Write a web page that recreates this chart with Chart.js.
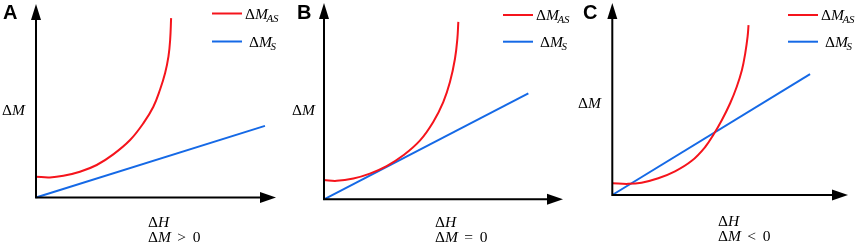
<!DOCTYPE html>
<html>
<head>
<meta charset="utf-8">
<script src="https://cdn.jsdelivr.net/npm/chart.js@4.4.1/dist/chart.umd.min.js"></script>
<style>
  html, body { margin: 0; padding: 0; background: #fff; }
  #wrap { position: relative; width: 858px; height: 246px; overflow: hidden; }
  canvas { position: absolute; top: 0; }
</style>
</head>
<body>
<div id="wrap">
  <canvas id="panelA" width="286" height="246" style="left:0px"></canvas>
  <canvas id="panelB" width="286" height="246" style="left:286px"></canvas>
  <canvas id="panelC" width="286" height="246" style="left:572px"></canvas>
</div>
<script>
// values are % of each axis length (0 = origin, 100 = arrow tip)
const asH_A = [0, 5.8, 11.4, 18.3, 25.3, 32.2, 39.2, 44.7, 48.9, 51.7, 53.8, 55.2, 55.9, 56.3];
const asM_A = [10.7, 10.4, 11.2, 13.3, 16.8, 22.3, 29.7, 38.3, 46.9, 55.8, 64.3, 72.9, 81.5, 92.7];
const sH_A = [0, 95.4];
const sM_A = [0, 37.0];

const asH_B = [0, 5.3, 12.3, 19.2, 26.2, 33.2, 40.2, 45.7, 49.9, 52.7, 54.8, 55.8, 56.2];
const asM_B = [9.8, 9.4, 10.6, 13.1, 16.9, 22.4, 30.0, 39.4, 49.5, 59.7, 71.6, 81.8, 90.4];
const sH_B = [0, 85.5];
const sM_B = [0, 54.0];

const asH_C = [0, 6.7, 12.4, 19.5, 26.6, 33.7, 39.4, 42.9, 46.5, 50.0, 52.8, 55.0, 56.4, 57.4, 57.8];
const asM_C = [6.1, 5.8, 6.4, 8.7, 12.3, 17.8, 25.0, 31.4, 39.1, 47.8, 56.4, 65.1, 73.8, 82.5, 88.5];
const sH_C = [0, 83.9];
const sM_C = [0, 63.0];

const panelLetters = ['A', 'B', 'C'];
const conditions = ['\u0394M > 0', '\u0394M = 0', '\u0394M < 0'];

const RED = '#f5141c';
const BLUE = '#1569e6';
const SERIF = '"Liberation Serif", "Times New Roman", serif';

function toPoints(xs, ys) {
  return xs.map((x, i) => ({ x: x, y: ys[i] }));
}

// draws Δ + italic symbol (+ italic subscript) (+ upright rest)
function drawSymbol(ctx, x, y, size, sym, sub, rest) {
  ctx.textBaseline = 'alphabetic';
  ctx.textAlign = 'left';
  ctx.font = size + 'px ' + SERIF;
  ctx.fillText('\u0394', x, y);
  x += ctx.measureText('\u0394').width;
  ctx.font = 'italic ' + size + 'px ' + SERIF;
  ctx.fillText(sym, x, y);
  x += ctx.measureText(sym).width;
  if (sub) {
    ctx.font = 'italic ' + Math.round(size * 0.68) + 'px ' + SERIF;
    ctx.fillText(sub, x - 1.5, y + 3);
    x += ctx.measureText(sub).width;
  }
  if (rest) {
    ctx.font = size + 'px ' + SERIF;
    ctx.letterSpacing = '1.5px';
    ctx.fillText(rest, x + 1, y);
    ctx.letterSpacing = '0px';
  }
}

const panels = [
  { id: 'panelA', as: [asH_A, asM_A], s: [sH_A, sM_A], pad: { left: 36, right: 10, top: 4, bottom: 48.5 },
    letterX: 3, yLab: [2, 115], xLab: [148, 227], legX: 212, legY: [13.5, 41.5] },
  { id: 'panelB', as: [asH_B, asM_B], s: [sH_B, sM_B], pad: { left: 38, right: 9, top: 3, bottom: 46.7 },
    letterX: 11, yLab: [6, 115], xLab: [149, 227], legX: 217, legY: [15, 41.7] },
  { id: 'panelC', as: [asH_C, asM_C], s: [sH_C, sM_C], pad: { left: 40.3, right: 10, top: 3, bottom: 51 },
    letterX: 11, yLab: [6, 108], xLab: [146, 226], legX: 216, legY: [15, 41.7] }
];

panels.forEach((p, idx) => {
  const decor = {
    id: 'decor' + idx,
    afterDraw(chart) {
      const ctx = chart.ctx;
      const xs = chart.scales.x, ys = chart.scales.y;
      const x0 = xs.getPixelForValue(0), y0 = ys.getPixelForValue(0);
      const xEnd = xs.getPixelForValue(100), yEnd = ys.getPixelForValue(100);
      ctx.save();
      // axes with arrow heads
      ctx.strokeStyle = '#000';
      ctx.fillStyle = '#000';
      ctx.lineWidth = 2;
      ctx.beginPath();
      ctx.moveTo(x0, y0); ctx.lineTo(xEnd - 12, y0);
      ctx.moveTo(x0, y0 + 1); ctx.lineTo(x0, yEnd + 12);
      ctx.stroke();
      ctx.beginPath();
      ctx.moveTo(xEnd, y0); ctx.lineTo(xEnd - 16, y0 - 5.5); ctx.lineTo(xEnd - 16, y0 + 5.5);
      ctx.closePath(); ctx.fill();
      ctx.beginPath();
      ctx.moveTo(x0, yEnd); ctx.lineTo(x0 - 5, yEnd + 16); ctx.lineTo(x0 + 5, yEnd + 16);
      ctx.closePath(); ctx.fill();

      // panel letter
      ctx.font = 'bold 20px "Liberation Sans", Arial, sans-serif';
      ctx.textBaseline = 'alphabetic';
      ctx.fillText(panelLetters[idx], p.letterX, 19);

      // axis labels
      drawSymbol(ctx, p.yLab[0], p.yLab[1], 15.5, 'M');
      drawSymbol(ctx, p.xLab[0], p.xLab[1], 15.5, 'H');
      const c = conditions[idx];
      drawSymbol(ctx, p.xLab[0], p.xLab[1] + 15, 15.5, 'M', null, c.slice(2));

      // legend
      ctx.lineWidth = 2;
      ctx.strokeStyle = RED;
      ctx.beginPath(); ctx.moveTo(p.legX, p.legY[0]); ctx.lineTo(p.legX + 30, p.legY[0]); ctx.stroke();
      ctx.strokeStyle = BLUE;
      ctx.beginPath(); ctx.moveTo(p.legX, p.legY[1]); ctx.lineTo(p.legX + 30, p.legY[1]); ctx.stroke();
      ctx.fillStyle = '#000';
      drawSymbol(ctx, p.legX + 33, p.legY[0] + 5, 15.5, 'M', 'AS');
      drawSymbol(ctx, p.legX + 37, p.legY[1] + 5, 15.5, 'M', 'S');
      ctx.restore();
    }
  };

  new Chart(document.getElementById(p.id), {
    type: 'scatter',
    data: {
      datasets: [
        {
          label: '\u0394M_AS',
          data: toPoints(p.as[0], p.as[1]),
          showLine: true,
          borderColor: RED,
          borderWidth: 2,
          pointRadius: 0,
          tension: 0.4,
          clip: false
        },
        {
          label: '\u0394M_S',
          data: toPoints(p.s[0], p.s[1]),
          showLine: true,
          borderColor: BLUE,
          borderWidth: 2,
          pointRadius: 0,
          clip: false
        }
      ]
    },
    options: {
      responsive: false,
      animation: false,
      devicePixelRatio: 1,
      layout: { padding: p.pad },
      plugins: { legend: { display: false }, tooltip: { enabled: false } },
      scales: {
        x: { type: 'linear', min: 0, max: 100, display: false },
        y: { type: 'linear', min: 0, max: 100, display: false }
      }
    },
    plugins: [decor]
  });
});
</script>
</body>
</html>
